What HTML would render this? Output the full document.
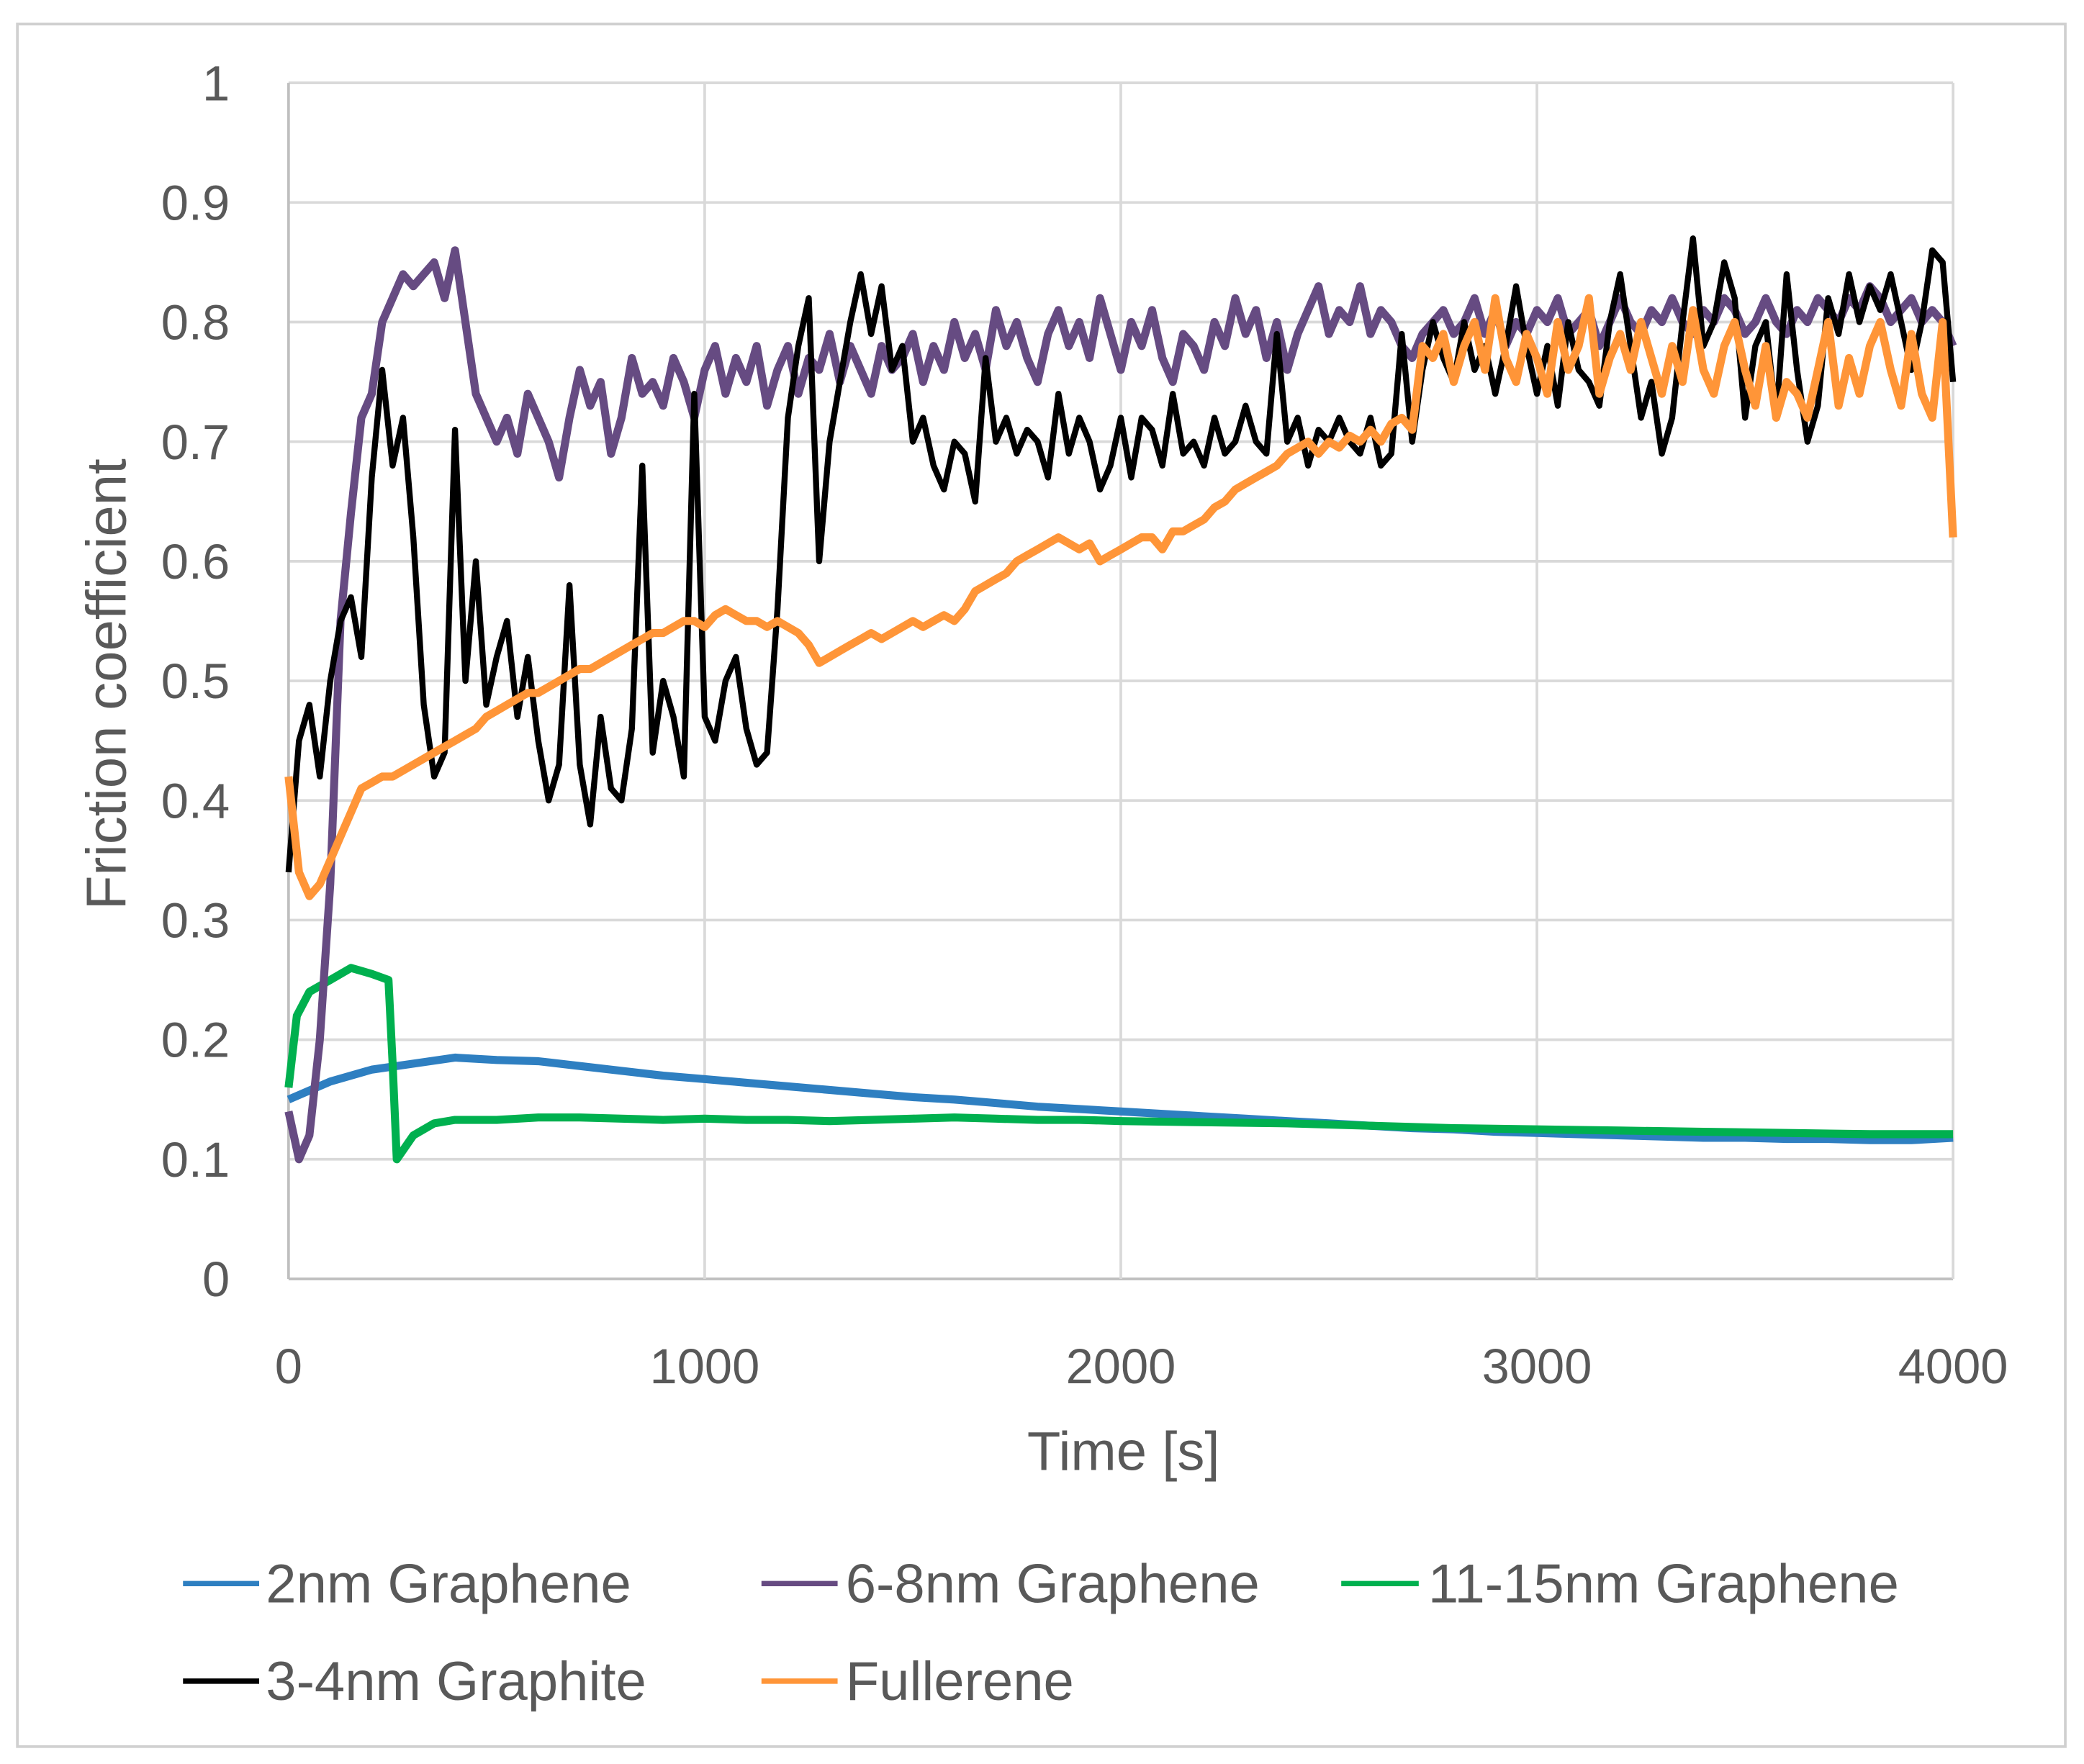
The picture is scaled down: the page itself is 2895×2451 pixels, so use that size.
<!DOCTYPE html>
<html><head><meta charset="utf-8"><style>
html,body{margin:0;padding:0;background:#fff;}
svg{display:block;}
text{font-family:"Liberation Sans",sans-serif;fill:#595959;}
</style></head><body>
<svg id="chart" width="2895" height="2451" viewBox="0 0 1560 1320" preserveAspectRatio="none" xmlns="http://www.w3.org/2000/svg">
<rect x="13" y="18" width="1533" height="1289" fill="#fff" stroke="#d0d0d0" stroke-width="2"/>
<g id="grid"></g>
<g id="series"></g>
<g id="axes"></g>
<text x="841" y="1100" font-size="41" text-anchor="middle">Time [s]</text>
<text x="0" y="0" font-size="42" text-anchor="middle" transform="translate(94,512) rotate(-90)">Friction coefficient</text>
<g>
<g><line x1="137" y1="1185" x2="194" y2="1185" stroke="#2e7fc1" stroke-width="4"/><text x="199" y="1199" font-size="41">2nm Graphene</text></g>
<g><line x1="570" y1="1185" x2="627" y2="1185" stroke="#664b82" stroke-width="4"/><text x="633" y="1199" font-size="41">6-8nm Graphene</text></g>
<g><line x1="1004" y1="1185" x2="1062" y2="1185" stroke="#00b04f" stroke-width="4"/><text x="1069" y="1199" font-size="41">11-15nm Graphene</text></g>
<g><line x1="137" y1="1258" x2="194" y2="1258" stroke="#000" stroke-width="4"/><text x="199" y="1272" font-size="41">3-4nm Graphite</text></g>
<g><line x1="570" y1="1258" x2="627" y2="1258" stroke="#ff9538" stroke-width="4"/><text x="633" y="1272" font-size="41">Fullerene</text></g>
</g>
</svg>
<script>
const xTicks=[0,1000,2000,3000,4000];
const yTicks=[0,0.1,0.2,0.3,0.4,0.5,0.6,0.7,0.8,0.9,1];
const yTickLabels=["0","0.1","0.2","0.3","0.4","0.5","0.6","0.7","0.8","0.9","1"];
const step25T=Array.from({length:161},(_,i)=>i*25);
const step100T=Array.from({length:41},(_,i)=>i*100);
const graphiteVals=[0.34,0.45,0.48,0.42,0.5,0.55,0.57,0.52,0.67,0.76,0.68,0.72,0.62,0.48,0.42,0.44,0.71,0.5,0.6,0.48,0.52,0.55,0.47,0.52,0.45,0.4,0.43,0.58,0.43,0.38,0.47,0.41,0.4,0.46,0.68,0.44,0.5,0.47,0.42,0.74,0.47,0.45,0.5,0.52,0.46,0.43,0.44,0.56,0.72,0.78,0.82,0.6,0.7,0.75,0.8,0.84,0.79,0.83,0.76,0.78,0.7,0.72,0.68,0.66,0.7,0.69,0.65,0.77,0.7,0.72,0.69,0.71,0.7,0.67,0.74,0.69,0.72,0.7,0.66,0.68,0.72,0.67,0.72,0.71,0.68,0.74,0.69,0.7,0.68,0.72,0.69,0.7,0.73,0.7,0.69,0.79,0.7,0.72,0.68,0.71,0.7,0.72,0.7,0.69,0.72,0.68,0.69,0.79,0.7,0.76,0.8,0.77,0.75,0.8,0.76,0.78,0.74,0.78,0.83,0.78,0.74,0.78,0.73,0.8,0.76,0.75,0.73,0.8,0.84,0.78,0.72,0.75,0.69,0.72,0.8,0.87,0.78,0.8,0.85,0.82,0.72,0.78,0.8,0.72,0.84,0.76,0.7,0.73,0.82,0.79,0.84,0.8,0.83,0.81,0.84,0.8,0.76,0.8,0.86,0.85,0.75];
const g68Vals=[0.14,0.1,0.12,0.2,0.33,0.55,0.64,0.72,0.74,0.8,0.82,0.84,0.83,0.84,0.85,0.82,0.86,0.8,0.74,0.72,0.7,0.72,0.69,0.74,0.72,0.7,0.67,0.72,0.76,0.73,0.75,0.69,0.72,0.77,0.74,0.75,0.73,0.77,0.75,0.72,0.76,0.78,0.74,0.77,0.75,0.78,0.73,0.76,0.78,0.74,0.77,0.76,0.79,0.75,0.78,0.76,0.74,0.78,0.76,0.77,0.79,0.75,0.78,0.76,0.8,0.77,0.79,0.76,0.81,0.78,0.8,0.77,0.75,0.79,0.81,0.78,0.8,0.77,0.82,0.79,0.76,0.8,0.78,0.81,0.77,0.75,0.79,0.78,0.76,0.8,0.78,0.82,0.79,0.81,0.77,0.8,0.76,0.79,0.81,0.83,0.79,0.81,0.8,0.83,0.79,0.81,0.8,0.78,0.77,0.79,0.8,0.81,0.79,0.8,0.82,0.79,0.81,0.78,0.8,0.79,0.81,0.8,0.82,0.79,0.8,0.81,0.78,0.8,0.82,0.8,0.79,0.81,0.8,0.82,0.8,0.79,0.81,0.8,0.82,0.81,0.79,0.8,0.82,0.8,0.79,0.81,0.8,0.82,0.81,0.8,0.82,0.81,0.83,0.82,0.8,0.81,0.82,0.8,0.81,0.8,0.78];
const fullereneVals=[0.42,0.34,0.32,0.33,0.35,0.37,0.39,0.41,0.415,0.42,0.42,0.425,0.43,0.435,0.44,0.445,0.45,0.455,0.46,0.47,0.475,0.48,0.485,0.49,0.49,0.495,0.5,0.505,0.51,0.51,0.515,0.52,0.525,0.53,0.535,0.54,0.54,0.545,0.55,0.55,0.545,0.555,0.56,0.555,0.55,0.55,0.545,0.55,0.545,0.54,0.53,0.515,0.52,0.525,0.53,0.535,0.54,0.535,0.54,0.545,0.55,0.545,0.55,0.555,0.55,0.56,0.575,0.58,0.585,0.59,0.6,0.605,0.61,0.615,0.62,0.615,0.61,0.615,0.6,0.605,0.61,0.615,0.62,0.62,0.61,0.625,0.625,0.63,0.635,0.645,0.65,0.66,0.665,0.67,0.675,0.68,0.69,0.695,0.7,0.69,0.7,0.695,0.705,0.7,0.71,0.7,0.715,0.72,0.71,0.78,0.77,0.79,0.75,0.78,0.8,0.76,0.82,0.77,0.75,0.79,0.77,0.74,0.8,0.76,0.78,0.82,0.74,0.77,0.79,0.76,0.8,0.77,0.74,0.78,0.75,0.81,0.76,0.74,0.78,0.8,0.76,0.73,0.78,0.72,0.75,0.74,0.72,0.76,0.8,0.73,0.77,0.74,0.78,0.8,0.76,0.73,0.79,0.74,0.72,0.8,0.62];
const g2Vals=[0.15,0.165,0.175,0.18,0.185,0.183,0.182,0.178,0.174,0.17,0.167,0.164,0.161,0.158,0.155,0.152,0.15,0.147,0.144,0.142,0.14,0.138,0.136,0.134,0.132,0.13,0.128,0.126,0.125,0.123,0.122,0.121,0.12,0.119,0.118,0.118,0.117,0.117,0.116,0.116,0.118];
const g1115T=[0,20,50,100,150,200,240,250,260,300,350,400,500,600,700,800,900,1000,1100,1200,1300,1400,1500,1600,1700,1800,1900,2000,2200,2400,2600,2800,3000,3200,3400,3600,3800,4000];
const g1115Vals=[0.16,0.22,0.24,0.25,0.26,0.255,0.25,0.18,0.10,0.12,0.13,0.133,0.133,0.135,0.135,0.134,0.133,0.134,0.133,0.133,0.132,0.133,0.134,0.135,0.134,0.133,0.133,0.132,0.131,0.13,0.128,0.126,0.125,0.124,0.123,0.122,0.121,0.121];

const L=216,R=1462,T=62,B=957;
const xs=v=>L+(v/4000)*(R-L);
const ys=v=>B-(v/1)*(B-T);
const NS="http://www.w3.org/2000/svg";
const grid=document.getElementById('grid'),axes=document.getElementById('axes'),ser=document.getElementById('series');
yTicks.forEach((v,i)=>{
 const ln=document.createElementNS(NS,'line');
 
 
 ln.setAttribute('x1',L);ln.setAttribute('x2',R);ln.setAttribute('y1',ys(v));ln.setAttribute('y2',ys(v));
 ln.setAttribute('stroke',i===0?'#bfbfbf':'#d9d9d9');ln.setAttribute('stroke-width','2');
 grid.appendChild(ln);
 const t=document.createElementNS(NS,'text');
 
 
 t.setAttribute('x',172);t.setAttribute('y',ys(v)+13);t.setAttribute('font-size','37');t.setAttribute('text-anchor','end');
 t.textContent=yTickLabels[i];axes.appendChild(t);
});
xTicks.forEach((v,i)=>{
 const ln=document.createElementNS(NS,'line');
 
 
 ln.setAttribute('y1',T);ln.setAttribute('y2',B);ln.setAttribute('x1',xs(v));ln.setAttribute('x2',xs(v));
 ln.setAttribute('stroke',i===0?'#bfbfbf':'#d9d9d9');ln.setAttribute('stroke-width','2');
 grid.appendChild(ln);
 const t=document.createElementNS(NS,'text');
 
 
 t.setAttribute('x',xs(v));t.setAttribute('y',1035);t.setAttribute('font-size','37');t.setAttribute('text-anchor','middle');
 t.textContent=String(v);axes.appendChild(t);
});
function draw(ts,vals,color,name,w){
 const p=document.createElementNS(NS,'path');
 
 
 p.setAttribute('d',vals.map((v,i)=>(i?'L':'M')+xs(ts[i]).toFixed(1)+' '+ys(v).toFixed(1)).join(''));
 p.setAttribute('fill','none');p.setAttribute('stroke',color);p.setAttribute('stroke-width',w);p.setAttribute('stroke-linejoin','round');
 ser.appendChild(p);
}
draw(step100T,g2Vals,'#2e7fc1','line-2nm-graphene',6);
draw(g1115T,g1115Vals,'#00b04f','line-11-15nm-graphene',6);
draw(step25T,g68Vals,'#664b82','line-6-8nm-graphene',6);
draw(step25T,graphiteVals,'#000000','line-3-4nm-graphite',4.5);
draw(step25T,fullereneVals,'#ff9538','line-fullerene',6);
</script>
</body></html>
